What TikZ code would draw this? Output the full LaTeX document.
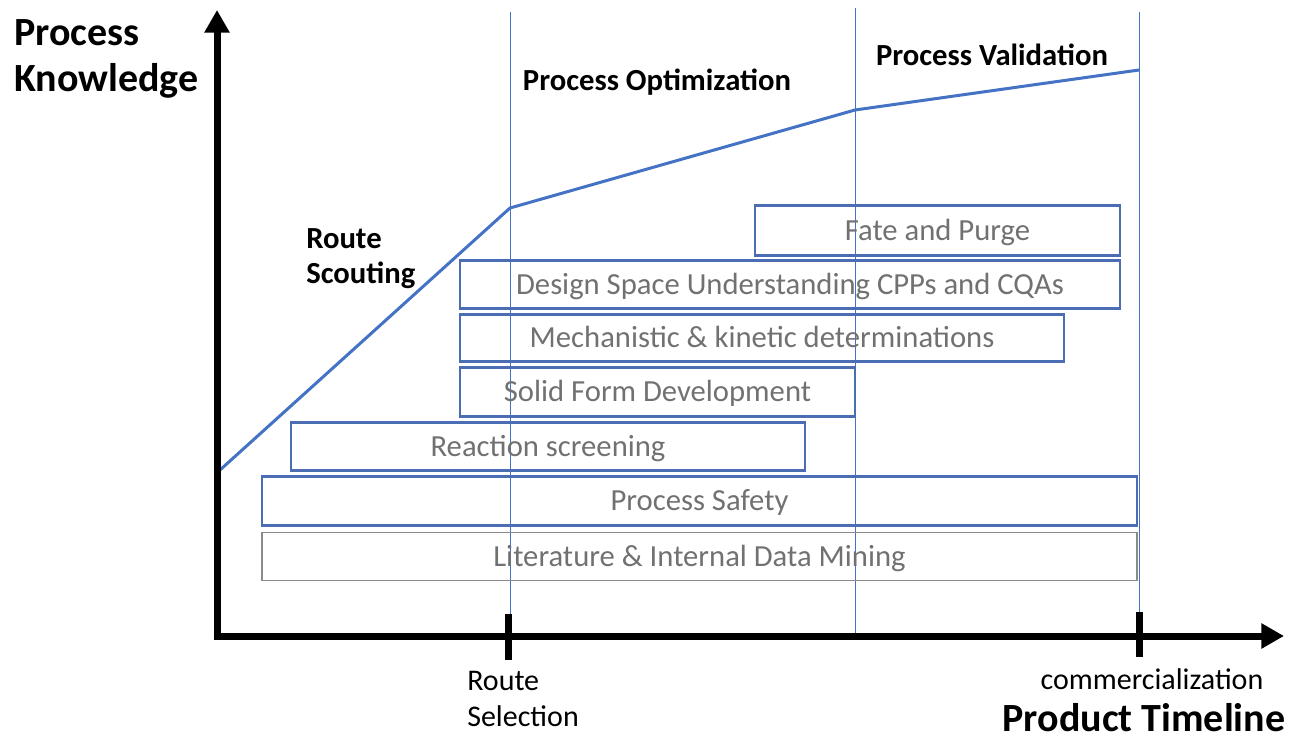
\documentclass[tikz,border=0pt]{standalone}
\usepackage{fontspec}
\setmainfont{Carlito}
\usetikzlibrary{arrows.meta}
\definecolor{obl}{HTML}{4472C4}
\definecolor{bxb}{HTML}{4A6DB3}
\definecolor{gtx}{HTML}{717171}
\definecolor{gbd}{HTML}{8A8A8A}
\begin{document}
\begin{tikzpicture}[x=0.75pt,y=-0.75pt,
  pbox/.style={draw=bxb, line width=1.9pt, text=gtx, font=\fontsize{23}{27}\selectfont,
    inner sep=0pt, text height=14.8pt, text depth=0pt},
  pw/.style={minimum width=#1*0.75pt},
  ph/.style={minimum height=#1*0.75pt},
  axis/.style={line width=5.25pt, -{Triangle[length=17pt,width=18pt]}},
  tick/.style={line width=5.25pt},
  guide/.style={draw=obl, line width=0.6pt},
  curve/.style={draw=obl, line width=2.25pt, line join=round},
  head/.style={font=\bfseries\fontsize{23}{27}\selectfont, inner sep=0pt},
  big/.style={font=\bfseries\fontsize{30}{36}\selectfont, inner sep=0pt},
  lab/.style={font=\fontsize{22.5}{27}\selectfont, inner sep=0pt}]
\useasboundingbox (0,0) rectangle (1294,741);

% guide lines
\coordinate (g1t) at (510,12);  \coordinate (g1b) at (510,640);
\coordinate (g2t) at (855,8);   \coordinate (g2b) at (855,634);
\coordinate (g3t) at (1139,12); \coordinate (g3b) at (1139,622);
\draw[guide] (g1t) -- (g1b);
\draw[guide] (g2t) -- (g2b);
\draw[guide] (g3t) -- (g3b);

% boxes
\node[pbox, pw=365, ph=50] (fate) at (937.5,230.5) {Fate and Purge};
\node[pbox, pw=660, ph=48] (dsu) at (790,284.5) {Design Space Understanding CPPs and CQAs};
\node[pbox, pw=604, ph=47] (mech) at (762,338) {Mechanistic \& kinetic determinations};
\node[pbox, pw=395, ph=49] (solid) at (657.5,392) {Solid Form Development};
\node[pbox, pw=514, ph=48] (react) at (548,446.5) {Reaction screening};
\node[pbox, pw=875, ph=49] (safety) at (699.5,501) {Process Safety};
\node[pbox, draw=gbd, line width=1pt, pw=875, ph=48] (lit) at (699.5,556.5) {Literature \& Internal Data Mining};

% knowledge curve
\coordinate (k0) at (220,470);
\coordinate (k1) at (510,208);
\coordinate (k2) at (855,110);
\coordinate (k3) at (1139,70);
\draw[curve] (k0) -- (k1) -- (k2) -- (k3);

% axes
\coordinate (o) at (217,636);
\coordinate (ytop) at (217,10);
\coordinate (xend) at (1284,636);
\draw[axis] ([yshift=-2.6pt]o) -- (ytop);
\draw[axis] ([xshift=-2.6pt]o) -- (xend);
\coordinate (t1a) at (508,614); \coordinate (t1b) at (508,660);
\coordinate (t2a) at (1139,612); \coordinate (t2b) at (1139,657);
\draw[tick] (t1a) -- (t1b);
\draw[tick] (t2a) -- (t2b);

% labels
\node[big, anchor=base west] (pk1) at (14,46) {Process};
\node[big, anchor=base west] (pk2) at (14,92) {Knowledge};
\node[head, anchor=base] (popt) at (657,91) {Process Optimization};
\node[head, anchor=base] (pval) at (992,66) {Process Validation};
\node[head, anchor=base west] (rs1) at (306,249) {Route};
\node[head, anchor=base west] (rs2) at (306,284) {Scouting};
\node[lab, anchor=base west] (sel1) at (467,690) {Route};
\node[lab, anchor=base west] (sel2) at (467,726) {Selection};
\node[lab, anchor=base] (comm) at (1152,689) {commercialization};
\node[big, anchor=base] (ptl) at (1144,731) {Product Timeline};
\end{tikzpicture}
\end{document}
